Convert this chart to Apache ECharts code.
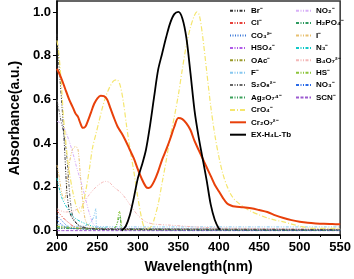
<!DOCTYPE html>
<html>
<head>
<meta charset="utf-8">
<script src="https://cdn.jsdelivr.net/npm/echarts@6/dist/echarts.min.js"></script>
<style>
  html, body { margin: 0; padding: 0; background: #fff; }
  #main { width: 354px; height: 279px; }
</style>
</head>
<body>
<div id="main"></div>
<script>
// spectra: [wavelength nm, absorbance]
var brData = [[200,0.90],[202,0.78],[204,0.68],[206,0.58],[208,0.47],[210,0.33],[212,0.19],[214,0.12],[216,0.08],[220,0.05],[225,0.03],[230,0.02],[240,0.01],[260,0.005],[550,0.003]];
var clData = [[200,0.09],[205,0.07],[210,0.05],[215,0.035],[220,0.02],[230,0.01],[550,0.005]];
var co3Data = [[200,0.07],[205,0.05],[210,0.03],[215,0.015],[220,0.01],[550,0.003]];
var hso4Data = [[200,0.01],[300,0.004],[550,0.001]];
var oacData = [[200,0.02],[220,0.01],[300,0.006],[550,0.003]];
var fData = [[200,0.03],[210,0.02],[230,0.02],[240,0.03],[245,0.06],[248,0.1],[249,0.02],[260,0.018],[300,0.017],[550,0.017]];
var s2o8Data = [[200,0.6],[204,0.52],[208,0.45],[211,0.38],[213,0.3],[215,0.2],[217,0.12],[220,0.06],[225,0.03],[230,0.015],[250,0.01],[550,0.005]];
var ag2o7Data = [[200,0.01],[270,0.01],[274,0.03],[278,0.07],[280,0.01],[550,0.003]];
var cro4Data = [[200,0.87],[202,0.82],[204,0.74],[206,0.64],[208,0.52],[210,0.44],[213,0.33],[216,0.25],[220,0.17],[224,0.11],[228,0.08],[232,0.12],[236,0.19],[240,0.28],[244,0.38],[248,0.44],[252,0.5],[256,0.56],[260,0.61],[265,0.655],[270,0.685],[274,0.69],[278,0.665],[282,0.59],[286,0.48],[290,0.38],[295,0.27],[300,0.15],[305,0.05],[308,0.015],[312,0.01],[317,0.02],[320,0.05],[325,0.12],[330,0.22],[335,0.32],[340,0.43],[345,0.52],[350,0.62],[355,0.74],[360,0.85],[365,0.93],[370,0.985],[373,1.0],[376,0.985],[380,0.89],[385,0.73],[390,0.57],[395,0.44],[400,0.34],[405,0.26],[410,0.205],[415,0.165],[420,0.14],[430,0.11],[440,0.088],[450,0.072],[460,0.058],[470,0.048],[480,0.04],[490,0.03],[500,0.02],[510,0.013],[520,0.01],[550,0.01]];
var cr2o7Data = [[200,0.74],[205,0.70],[210,0.65],[215,0.60],[220,0.56],[223,0.535],[226,0.52],[229,0.49],[232,0.47],[235,0.475],[238,0.50],[242,0.54],[246,0.58],[250,0.605],[254,0.617],[258,0.615],[262,0.60],[266,0.56],[270,0.52],[275,0.475],[280,0.445],[285,0.41],[290,0.37],[295,0.33],[300,0.28],[305,0.235],[310,0.20],[313,0.195],[316,0.2],[320,0.225],[325,0.27],[330,0.325],[335,0.37],[340,0.42],[345,0.475],[350,0.515],[355,0.51],[360,0.49],[365,0.46],[370,0.41],[375,0.37],[380,0.33],[385,0.29],[390,0.25],[395,0.21],[400,0.18],[405,0.15],[410,0.125],[415,0.115],[420,0.11],[430,0.107],[440,0.102],[450,0.094],[460,0.085],[470,0.07],[480,0.058],[490,0.048],[500,0.041],[510,0.036],[520,0.033],[530,0.031],[540,0.03],[550,0.029]];
var exTbData = [[280,0],[285,0.02],[290,0.07],[295,0.15],[300,0.24],[305,0.30],[310,0.37],[315,0.48],[320,0.61],[325,0.735],[330,0.81],[335,0.885],[340,0.95],[345,0.99],[350,1.0],[355,0.97],[360,0.88],[365,0.72],[370,0.55],[375,0.43],[380,0.33],[385,0.23],[390,0.12],[395,0.05],[400,0.01],[402,0.005]];
var no2Data = [[200,0.50],[205,0.49],[210,0.46],[215,0.41],[220,0.35],[225,0.28],[230,0.22],[235,0.15],[240,0.08],[245,0.03],[250,0.015],[260,0.01],[550,0.005]];
var h2po4Data = [[200,0.015],[250,0.005],[550,0.002]];
var iData = [[200,0.30],[203,0.24],[206,0.17],[209,0.14],[212,0.2],[215,0.3],[219,0.37],[223,0.385],[226,0.37],[229,0.25],[232,0.13],[235,0.05],[240,0.02],[250,0.01],[550,0.005]];
var n3Data = [[200,0.24],[203,0.19],[206,0.15],[210,0.12],[215,0.09],[220,0.065],[225,0.05],[230,0.04],[240,0.025],[250,0.015],[270,0.01],[550,0.005]];
var b4o7Data = [[200,0.1],[210,0.085],[220,0.09],[230,0.11],[240,0.165],[250,0.205],[260,0.225],[265,0.22],[270,0.2],[280,0.17],[290,0.12],[300,0.07],[310,0.04],[320,0.03],[340,0.025],[370,0.017],[400,0.012],[450,0.01],[550,0.008]];
var hsData = [[200,0.02],[240,0.01],[270,0.01],[274,0.03],[277,0.09],[279,0.05],[281,0.005],[550,0.005]];
var no3Data = [[200,0.05],[205,0.03],[215,0.01],[550,0.001]];
var scnData = [[200,0.0],[550,0.0]];

var yTicks = [0, 0.2, 0.4, 0.6, 0.8, 1.0];

var DASH_DOT_DOT = [3, 1.5, 1, 1.5, 1, 1.5];
var DOTTED = [1, 1.5];
var DASH_DOT = [5, 2, 1, 2];

function lineSeries(name, data, color, dash, width, z) {
  return {
    name: name,
    type: "line",
    data: data,
    smooth: 0.3,
    symbol: "none",
    z: z || 2,
    lineStyle: { color: color, width: width || 1, type: dash },
    itemStyle: { color: color },
  };
}

function init_chart(container) {
  var chartDom = document.getElementById(container);
  var myChart = echarts.init(chartDom);
  var font = "Liberation Sans, Arial, sans-serif";
  var legendText = { fontSize: 8, fontWeight: "bold", color: "#000", fontFamily: font, lineHeight: 8 };

  var option = {
    animation: false,
    grid: {
      left: 51,
      right: 12,
      top: 1,
      bottom: 41,
      show: true,
      borderColor: "#333",
      borderWidth: 1.5,
    },
    legend: [
      {
        orient: "vertical",
        left: 229,
        top: 6.7,
        padding: 0,
        itemWidth: 16,
        itemHeight: 8,
        itemGap: 4.4,
        itemStyle: { opacity: 0 }, // hide the circle, keep the line sample
        textStyle: legendText,
        data: ["Br⁻", "Cl⁻", "CO₃²⁻", "HSO₄⁻", "OAc⁻", "F⁻", "S₂O₈²⁻", "Ag₂O₇⁴⁻", "CrO₄⁻", "Cr₂O₇²⁻", "EX-H₄L-Tb"],
      },
      {
        orient: "vertical",
        left: 295,
        top: 6.7,
        padding: 0,
        itemWidth: 15,
        itemHeight: 8,
        itemGap: 4.4,
        itemStyle: { opacity: 0 },
        textStyle: legendText,
        data: ["NO₂⁻", "H₂PO₄⁻", "I⁻", "N₃⁻", "B₄O₇²⁻", "HS⁻", "NO₃⁻", "SCN⁻"],
      },
    ],
    xAxis: {
      type: "value",
      min: 200,
      max: 550,
      interval: 50,
      name: "Wavelength(nm)",
      nameLocation: "middle",
      nameGap: 25,
      nameTextStyle: { fontSize: 14, fontWeight: "bold", color: "#000", fontFamily: font },
      axisLine: { onZero: false, lineStyle: { color: "#000", width: 1.5 } },
      axisTick: { length: 4, lineStyle: { color: "#000", width: 1 } },
      minorTick: { show: true, splitNumber: 2, length: 2, lineStyle: { color: "#000" } },
      axisLabel: { fontSize: 13, fontWeight: "bold", color: "#000", margin: 6, fontFamily: font },
      splitLine: { show: false },
    },
    yAxis: {
      type: "value",
      min: -0.02,
      max: 1.05,
      name: "Absorbance(a.u.)",
      nameLocation: "middle",
      nameGap: 33,
      nameTextStyle: { fontSize: 14, fontWeight: "bold", color: "#000", fontFamily: font },
      axisLine: { onZero: false, lineStyle: { color: "#000", width: 1.5 } },
      axisTick: { length: 4, customValues: yTicks, lineStyle: { color: "#000", width: 1 } },
      axisLabel: {
        fontSize: 13,
        fontWeight: "bold",
        color: "#000",
        margin: 6,
        fontFamily: font,
        customValues: yTicks,
        formatter: function (v) {
          return v.toFixed(1);
        },
      },
      splitLine: { show: false },
    },
    series: [
      lineSeries("SCN⁻", scnData, "#9c5ad0", [3, 1.5]),
      lineSeries("HSO₄⁻", hso4Data, "#b05ae8", DASH_DOT_DOT),
      lineSeries("H₂PO₄⁻", h2po4Data, "#2e9a60", DASH_DOT_DOT),
      lineSeries("OAc⁻", oacData, "#9a9a2a", DASH_DOT_DOT),
      lineSeries("NO₃⁻", no3Data, "#2a6ae8", DASH_DOT_DOT),
      lineSeries("CO₃²⁻", co3Data, "#3a78d8", DOTTED),
      lineSeries("Cl⁻", clData, "#e8413a", DASH_DOT_DOT),
      lineSeries("F⁻", fData, "#88c8f0", DASH_DOT_DOT),
      lineSeries("Ag₂O₇⁴⁻", ag2o7Data, "#3aa05a", DASH_DOT_DOT),
      lineSeries("HS⁻", hsData, "#8cc43a", DASH_DOT_DOT),
      lineSeries("N₃⁻", n3Data, "#10c8c8", DASH_DOT_DOT),
      lineSeries("B₄O₇²⁻", b4o7Data, "#f4b8b8", DASH_DOT_DOT),
      lineSeries("I⁻", iData, "#e8c070", DASH_DOT_DOT),
      lineSeries("NO₂⁻", no2Data, "#d8b0f8", DASH_DOT_DOT),
      lineSeries("S₂O₈²⁻", s2o8Data, "#666666", DASH_DOT_DOT),
      lineSeries("Br⁻", brData, "#333333", DASH_DOT_DOT),
      lineSeries("CrO₄⁻", cro4Data, "#f5e66e", DASH_DOT, 1.2, 3),
      lineSeries("Cr₂O₇²⁻", cr2o7Data, "#e8400a", "solid", 2, 4),
      lineSeries("EX-H₄L-Tb", exTbData, "#000000", "solid", 1.8, 5),
    ],
  };

  option && myChart.setOption(option);
}

init_chart("main");
</script>
</body>
</html>
